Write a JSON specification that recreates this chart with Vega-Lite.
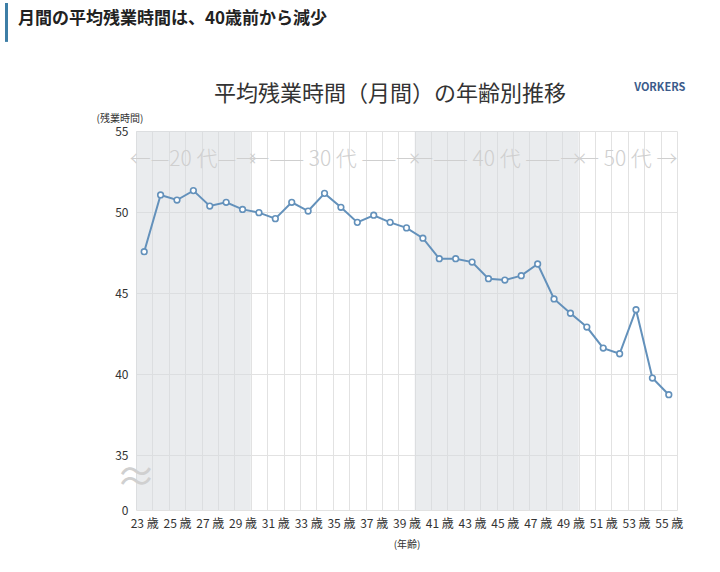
{
  "$schema": "https://vega.github.io/schema/vega-lite/v6.json",
  "autosize": "none",
  "width": 541,
  "height": 379,
  "padding": {"left": 136, "top": 131, "right": 43, "bottom": 62},
  "background": "white",
  "config": {
    "font": "Noto Sans CJK JP",
    "view": {"stroke": null}
  },
  "title": {
    "text": "月間の平均残業時間は、40歳前から減少",
    "anchor": "start",
    "frame": "group",
    "fontSize": 17,
    "fontWeight": "bold",
    "color": "#222222",
    "dx": -118,
    "dy": 30
  },
  "datasets": {
    "hours": [
      {"age": 23, "hours": 47.55}, {"age": 24, "hours": 51.05}, {"age": 25, "hours": 50.74},
      {"age": 26, "hours": 51.32}, {"age": 27, "hours": 50.37}, {"age": 28, "hours": 50.6},
      {"age": 29, "hours": 50.16}, {"age": 30, "hours": 49.96}, {"age": 31, "hours": 49.59},
      {"age": 32, "hours": 50.6}, {"age": 33, "hours": 50.06}, {"age": 34, "hours": 51.15},
      {"age": 35, "hours": 50.29}, {"age": 36, "hours": 49.36}, {"age": 37, "hours": 49.8},
      {"age": 38, "hours": 49.36}, {"age": 39, "hours": 49.02}, {"age": 40, "hours": 48.38},
      {"age": 41, "hours": 47.12}, {"age": 42, "hours": 47.12}, {"age": 43, "hours": 46.91},
      {"age": 44, "hours": 45.88}, {"age": 45, "hours": 45.8}, {"age": 46, "hours": 46.07},
      {"age": 47, "hours": 46.79}, {"age": 48, "hours": 44.63}, {"age": 49, "hours": 43.75},
      {"age": 50, "hours": 42.9}, {"age": 51, "hours": 41.6}, {"age": 52, "hours": 41.25},
      {"age": 53, "hours": 43.97}, {"age": 54, "hours": 39.75}, {"age": 55, "hours": 38.72}
    ],
    "decades": [
      {"decade": "←—20 代—→", "start": 22.5, "end": 29.5, "mid": 26, "shade": true},
      {"decade": "←——  30 代  ——→", "start": 29.5, "end": 39.5, "mid": 34.5, "shade": false},
      {"decade": "←——  40 代  ——→", "start": 39.5, "end": 49.5, "mid": 44.5, "shade": true},
      {"decade": "← 50 代 →", "start": 49.5, "end": 55.5, "mid": 52.5, "shade": false}
    ]
  },
  "resolve": {"axis": {"x": "independent"}},
  "layer": [
    {
      "data": {"name": "decades"},
      "transform": [{"filter": "datum.shade"}],
      "mark": {"type": "rect", "color": "#d5d9dd", "opacity": 0.5},
      "encoding": {
        "x": {
          "field": "start", "type": "quantitative",
          "scale": {"domain": [22.5, 55.5], "nice": false, "zero": false},
          "axis": {
            "orient": "bottom",
            "values": [23, 25, 27, 29, 31, 33, 35, 37, 39, 41, 43, 45, 47, 49, 51, 53, 55],
            "labelExpr": "datum.value + ' 歳'",
            "grid": false, "ticks": false, "domain": false,
            "labelFontSize": 12, "labelColor": "#333333", "labelPadding": 8,
            "title": "(年齢)", "titleFontSize": 10, "titleFontWeight": "normal",
            "titleColor": "#333333", "titlePadding": 10
          }
        },
        "x2": {"field": "end"},
        "y": {
          "datum": 0, "type": "quantitative",
          "scale": {"domain": [0, 35, 55], "range": [379, 324, 0], "nice": false, "zero": false},
          "axis": {
            "values": [0, 35, 40, 45, 50, 55],
            "grid": true, "gridColor": "#e2e2e2", "gridWidth": 1,
            "ticks": false, "domain": false,
            "labelFontSize": 12, "labelColor": "#333333", "labelPadding": 8,
            "title": "(残業時間)", "titleAngle": 0, "titleAlign": "left",
            "titleBaseline": "bottom", "titleX": -40, "titleY": -8,
            "titleFontSize": 10, "titleFontWeight": "normal", "titleColor": "#333333"
          }
        },
        "y2": {"datum": 55}
      }
    },
    {
      "data": {"name": "decades"},
      "mark": {"type": "text", "fontSize": 21, "color": "#cfcfcf", "fontWeight": 300},
      "encoding": {
        "x": {
          "field": "mid", "type": "quantitative",
          "axis": {
            "orient": "top",
            "values": [22.5, 23.5, 24.5, 25.5, 26.5, 27.5, 28.5, 29.5, 30.5, 31.5, 32.5, 33.5, 34.5, 35.5, 36.5, 37.5, 38.5, 39.5, 40.5, 41.5, 42.5, 43.5, 44.5, 45.5, 46.5, 47.5, 48.5, 49.5, 50.5, 51.5, 52.5, 53.5, 54.5, 55.5],
            "grid": true, "gridColor": "#e2e2e2", "labels": false, "ticks": false,
            "domain": false, "title": null
          }
        },
        "y": {"datum": 53.2, "type": "quantitative"},
        "text": {"field": "decade"}
      }
    },
    {
      "data": {"name": "hours"},
      "mark": {"type": "line", "color": "#6391bb", "strokeWidth": 2},
      "encoding": {
        "x": {"field": "age", "type": "quantitative", "axis": null},
        "y": {"field": "hours", "type": "quantitative"}
      }
    },
    {
      "data": {"name": "hours"},
      "mark": {"type": "point", "filled": true, "fill": "white", "stroke": "#6391bb", "strokeWidth": 1.6, "size": 32, "opacity": 1},
      "encoding": {
        "x": {"field": "age", "type": "quantitative", "axis": null},
        "y": {"field": "hours", "type": "quantitative"}
      }
    },
    {
      "data": {"values": [{"t": "≈"}]},
      "mark": {"type": "text", "fontSize": 40, "color": "#d0d0d0", "baseline": "middle"},
      "encoding": {
        "x": {"datum": 22.5, "type": "quantitative", "axis": null},
        "y": {"datum": 20, "type": "quantitative"},
        "text": {"field": "t"}
      }
    },
    {
      "data": {"values": [{"t": "平均残業時間（月間）の年齢別推移"}]},
      "mark": {"type": "text", "fontSize": 22, "color": "#333333", "baseline": "middle"},
      "encoding": {
        "x": {"datum": 38, "type": "quantitative", "axis": null},
        "y": {"datum": 57.3, "type": "quantitative"},
        "text": {"field": "t"}
      }
    },
    {
      "data": {"values": [{"t": "VORKERS"}]},
      "mark": {"type": "text", "fontSize": 11, "fontWeight": "bold", "color": "#3b5b8b", "baseline": "middle"},
      "encoding": {
        "x": {"datum": 54.45, "type": "quantitative", "axis": null},
        "y": {"datum": 57.65, "type": "quantitative"},
        "text": {"field": "t"}
      }
    },
    {
      "data": {"values": [{"t": "bar"}]},
      "mark": {"type": "rule", "color": "#3d7ea6", "strokeWidth": 3},
      "encoding": {
        "x": {"datum": 14.6, "type": "quantitative", "axis": null},
        "y": {"datum": 62.9, "type": "quantitative"},
        "y2": {"datum": 60.5}
      }
    }
  ]
}
